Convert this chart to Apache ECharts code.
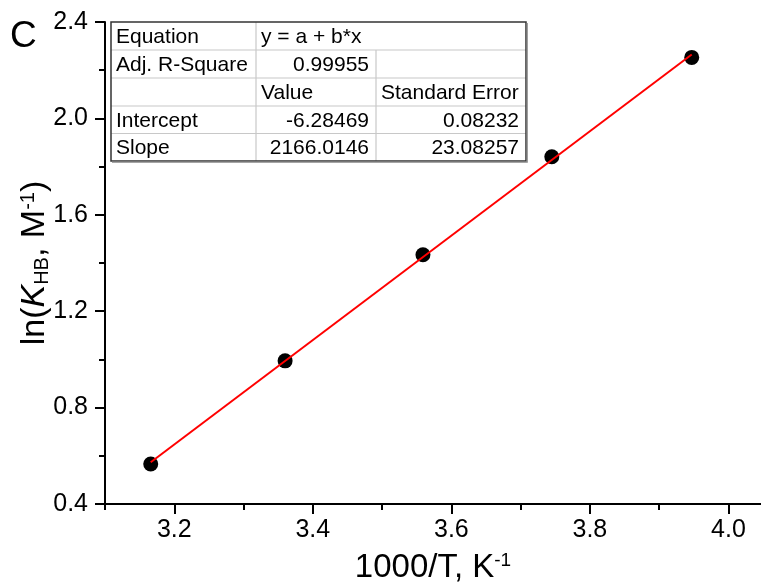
<!DOCTYPE html>
<html>
<head>
<meta charset="utf-8">
<script src="https://cdn.jsdelivr.net/npm/echarts@6/dist/echarts.min.js"></script>
<style>
  html, body { margin: 0; padding: 0; background: #fff; }
  #chart { width: 761px; height: 586px; }
</style>
</head>
<body>
<div id="chart"></div>
<script>
// Measured points: 1000/T vs ln(K_HB)
var xValues = [3.166, 3.360, 3.559, 3.745, 3.947];
var yValues = [0.566, 0.994, 1.434, 1.841, 2.253];

// Linear fit drawn between first and last point
var fitX = [3.166, 3.947];
var fitY = [0.573, 2.265];

// Tick labels
var xMajorTicks = [3.2, 3.4, 3.6, 3.8, 4.0];
var xMinorTicks = [3.1, 3.3, 3.5, 3.7, 3.9];
var yTicks = [0.4, 0.8, 1.2, 1.6, 2.0, 2.4];

// Fit result table
var tableRows = [
    ['Equation', 'y = a + b*x', ''],
    ['Adj. R-Square', '0.99955', ''],
    ['', 'Value', 'Standard Error'],
    ['Intercept', '-6.28469', '0.08232'],
    ['Slope', '2166.0146', '23.08257']
];

var FONT = '"Liberation Sans", Arial, sans-serif';

// Table layout
var colX = [111, 256, 376, 526];
var rowY = [22, 50, 78, 106, 133.5, 161];

function buildTable() {
    var els = [];
    els.push({
        type: 'rect', z: 50,
        shape: { x: colX[0], y: rowY[0], width: colX[3] - colX[0], height: rowY[5] - rowY[0] },
        style: { fill: '#fff', stroke: null }
    });
    // inner horizontal lines
    for (var r = 1; r < rowY.length - 1; r++) {
        els.push({
            type: 'line', z: 51,
            shape: { x1: colX[0], y1: rowY[r], x2: colX[3], y2: rowY[r] },
            style: { stroke: '#c8c8c8', lineWidth: 1.2 }
        });
    }
    // inner vertical lines (first row merged over columns 2-3)
    els.push({
        type: 'line', z: 51,
        shape: { x1: colX[1], y1: rowY[0], x2: colX[1], y2: rowY[5] },
        style: { stroke: '#c8c8c8', lineWidth: 1.2 }
    });
    els.push({
        type: 'line', z: 51,
        shape: { x1: colX[2], y1: rowY[1], x2: colX[2], y2: rowY[5] },
        style: { stroke: '#c8c8c8', lineWidth: 1.2 }
    });
    // outer border
    els.push({
        type: 'rect', z: 52,
        shape: { x: colX[0], y: rowY[0], width: colX[3] - colX[0], height: rowY[5] - rowY[0] },
        style: { fill: null, stroke: '#333', lineWidth: 1.5 }
    });
    els.push({
        type: 'polyline', z: 52,
        shape: { points: [[colX[0] + 1, rowY[5] + 1.2], [colX[3] + 1.2, rowY[5] + 1.2], [colX[3] + 1.2, rowY[0] + 1]] },
        style: { fill: null, stroke: '#888', lineWidth: 1.2 }
    });
    // cell texts
    tableRows.forEach(function (row, r) {
        row.forEach(function (txt, c) {
            if (!txt) return;
            var rightAlign = c > 0 && (r === 1 || r >= 3);
            var xPos = rightAlign ? colX[c + 1] - 7 : colX[c] + 5;
            els.push({
                type: 'text', z: 53,
                x: xPos,
                y: (rowY[r] + rowY[r + 1]) / 2 + 1,
                style: {
                    text: txt,
                    fill: '#000',
                    font: '21px ' + FONT,
                    textAlign: rightAlign ? 'right' : 'left',
                    textVerticalAlign: 'middle'
                }
            });
        });
    });
    return els;
}

var chart = echarts.init(document.getElementById('chart'), null, { renderer: 'canvas' });

var option = {
    backgroundColor: '#fff',
    animation: false,
    textStyle: { fontFamily: FONT },
    grid: { left: 105, right: 0, top: 22, bottom: 82, containLabel: false, outerBoundsMode: 'none' },
    xAxis: [{
        type: 'value',
        min: 3.1,
        max: 4.047,
        name: '1000/T, K{sup|-1}',
        nameLocation: 'middle',
        nameGap: 47,
        nameMoveOverlap: false,
        nameTextStyle: {
            fontSize: 33, color: '#000', fontFamily: FONT,
            rich: {
                sup: { fontSize: 19, verticalAlign: 'top', lineHeight: 19, color: '#000', fontFamily: FONT }
            }
        },
        axisLine: { show: true, onZero: false, lineStyle: { color: '#000', width: 2 } },
        axisTick: { show: true, length: 10, lineStyle: { color: '#000', width: 2 }, customValues: xMajorTicks },
        axisLabel: {
            color: '#000', fontSize: 25, margin: 14, fontFamily: FONT,
            customValues: xMajorTicks,
            formatter: function (v) { return v.toFixed(1); }
        },
        splitLine: { show: false }
    }, {
        type: 'value',
        min: 3.1,
        max: 4.047,
        position: 'bottom',
        axisLine: { show: false, onZero: false },
        axisTick: { show: true, length: 6, lineStyle: { color: '#000', width: 2 }, customValues: xMinorTicks },
        axisLabel: { show: false },
        splitLine: { show: false }
    }],
    yAxis: {
        type: 'value',
        min: 0.4,
        max: 2.4,
        interval: 0.4,
        name: 'ln({it|K}{sub|HB}, M{sup|-1})',
        nameLocation: 'middle',
        nameGap: 53,
        nameMoveOverlap: false,
        nameTextStyle: {
            fontSize: 34, color: '#000', fontFamily: FONT,
            rich: {
                it: { fontSize: 34, fontStyle: 'italic', color: '#000', fontFamily: FONT },
                sub: { fontSize: 20, verticalAlign: 'bottom', lineHeight: 20, color: '#000', fontFamily: FONT },
                sup: { fontSize: 20, verticalAlign: 'top', lineHeight: 20, color: '#000', fontFamily: FONT }
            }
        },
        axisLine: { show: true, onZero: false, lineStyle: { color: '#000', width: 2 } },
        axisTick: { show: true, length: 10, lineStyle: { color: '#000', width: 2 } },
        minorTick: { show: true, splitNumber: 2, length: 6, lineStyle: { color: '#000', width: 2 } },
        axisLabel: {
            color: '#000', fontSize: 25, margin: 17, fontFamily: FONT,
            formatter: function (v) { return v.toFixed(1); }
        },
        splitLine: { show: false }
    },
    series: [{
        name: 'data',
        type: 'scatter',
        symbol: 'circle',
        symbolSize: 15,
        itemStyle: { color: '#000', opacity: 1 },
        data: xValues.map(function (x, i) { return [x, yValues[i]]; }),
        z: 3
    }, {
        name: 'fit',
        type: 'line',
        showSymbol: false,
        lineStyle: { color: '#ff0000', width: 2 },
        data: fitX.map(function (x, i) { return [x, fitY[i]]; }),
        z: 4
    }],
    graphic: [{
        type: 'text',
        x: 10, y: 18,
        style: { text: 'C', fill: '#000', font: '37px ' + FONT, textVerticalAlign: 'top' }
    }].concat(buildTable())
};

chart.setOption(option);
</script>
</body>
</html>
